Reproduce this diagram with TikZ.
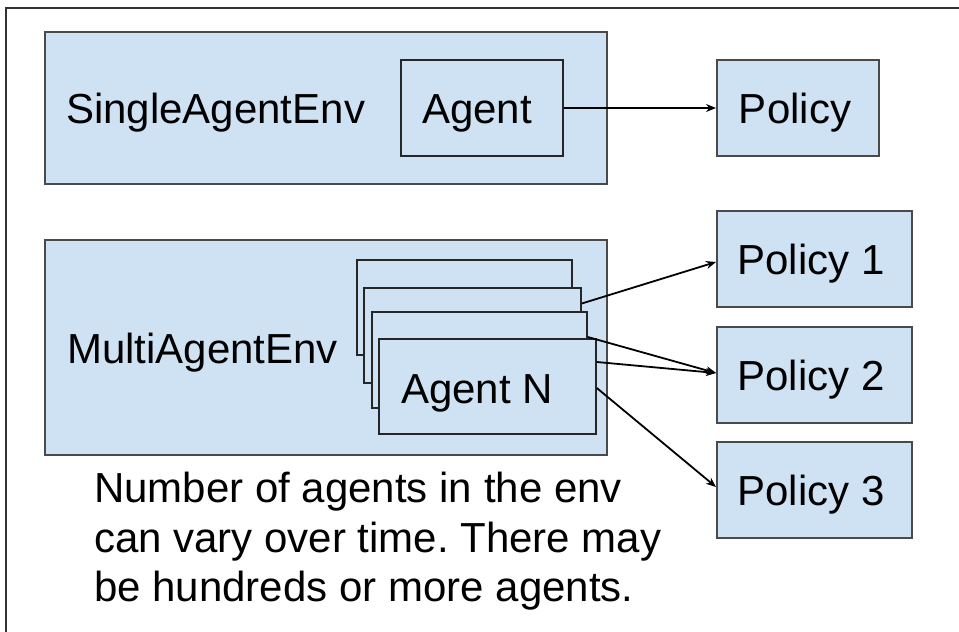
\documentclass[tikz,border=0pt]{standalone}
\usepackage{fontspec}
\setmainfont{Liberation Sans}
\usetikzlibrary{arrows.meta}
\definecolor{boxblue}{HTML}{CFE2F3}
\definecolor{envedge}{HTML}{4A4A4A}
\definecolor{frameedge}{HTML}{333333}
\frenchspacing
\begin{document}
\begin{tikzpicture}[x=1pt,y=-1pt,
  every node/.style={font=\fontsize{42}{49.5}\selectfont, inner sep=0pt},
  envbox/.style={draw=envedge, fill=boxblue, line width=2.2pt, rectangle},
  agentbox/.style={draw=black!85, fill=boxblue, line width=1.6pt, rectangle},
  policybox/.style={draw=envedge, fill=boxblue, line width=2pt, rectangle},
  link/.style={draw=black, line width=1.8pt, -{Stealth[length=10pt,width=8pt]}}
]
\useasboundingbox (0,0) rectangle (959,632);
\fill[white] (0,0) rectangle (959,632);

% frame lines along the top and left
\coordinate (frameTL) at (6,8);
\coordinate (frameTR) at (959,8);
\coordinate (frameBL) at (6,632);
\draw[frameedge, line width=1.6pt] (frameTR) -- (frameTL) -- (frameBL);

% single-agent environment
\node[envbox, minimum width=562pt, minimum height=152pt] (single) at (326,108) {};
\node[anchor=base west] (singlelabel) at (66,123) {SingleAgentEnv};
\node[agentbox, minimum width=162pt, minimum height=96pt] (agent) at (482,108) {};
\node[anchor=base] (agentlabel) at (477,123) {Agent};
\node[policybox, minimum width=162pt, minimum height=96pt] (policy) at (798,108) {};
\node[anchor=base] (policylabel) at (795,123) {Policy};
\draw[link] (agent.east) -- (policy.west);

% multi-agent environment with a stack of agents
\node[envbox, minimum width=562pt, minimum height=215pt] (multi) at (326,347.5) {};
\node[anchor=base west] (multilabel) at (67,363) {MultiAgentEnv};
\node[agentbox, minimum width=215pt, minimum height=95pt] (a1) at (464.5,307.5) {};
\node[agentbox, minimum width=217pt, minimum height=95pt] (a2) at (472.5,335.5) {};
\node[agentbox, minimum width=215pt, minimum height=96pt] (a3) at (479.5,360) {};
\node[agentbox, minimum width=217pt, minimum height=95pt] (a4) at (487.5,386.5) {};
\node[anchor=base] (a4label) at (477,403) {Agent N};

% policies
\node[policybox, minimum width=195pt, minimum height=96pt] (p1) at (814.5,259) {};
\node[anchor=base] (p1label) at (811,274) {Policy 1};
\node[policybox, minimum width=195pt, minimum height=96pt] (p2) at (814.5,375) {};
\node[anchor=base] (p2label) at (811,390) {Policy 2};
\node[policybox, minimum width=195pt, minimum height=96pt] (p3) at (814.5,490) {};
\node[anchor=base] (p3label) at (811,505) {Policy 3};

% agent-to-policy mapping
\draw[link] ([yshift=32pt]a2.east) -- ([yshift=-3pt]p1.west);
\draw[link] ([yshift=23pt]a3.east) -- ([yshift=2pt]p2.west);
\draw[link] ([yshift=24.5pt]a4.east) -- ([yshift=2pt]p2.west);
\draw[link] ([yshift=-1.5pt]a4.east) -- ([yshift=3pt]p3.west);

% note
\node[anchor=north west, align=left] (note) at (94,472.3)
  {Number of agents in the env\\can vary over time. There may\\be hundreds or more agents.};
\end{tikzpicture}
\end{document}
